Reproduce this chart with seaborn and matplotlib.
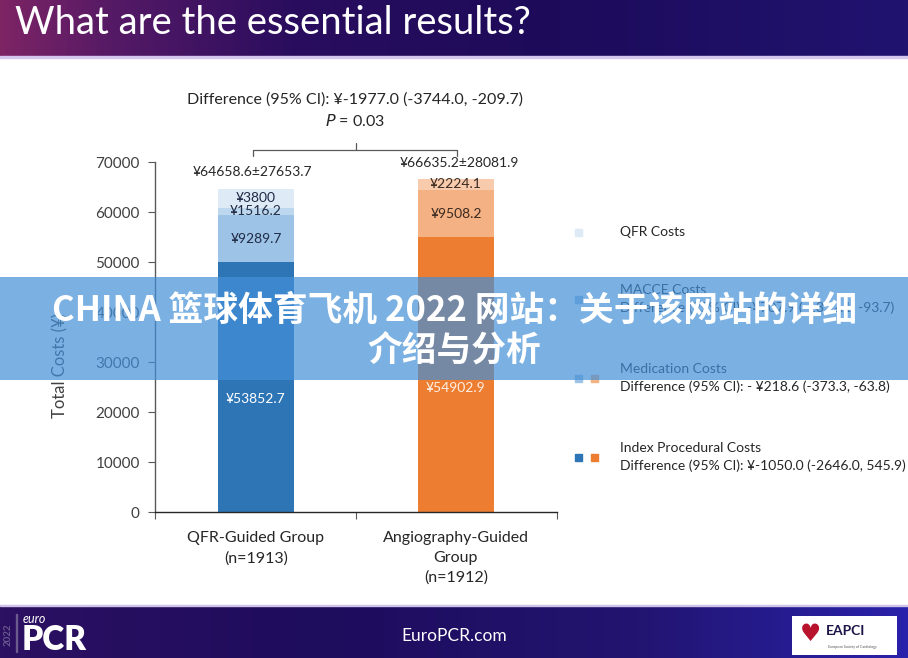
import numpy as np
import pandas as pd
import matplotlib
matplotlib.use("Agg")
import matplotlib.pyplot as plt
from matplotlib.colors import LinearSegmentedColormap
from matplotlib.patches import Rectangle
import seaborn as sns

# ---------------- data ----------------
groups = ["QFR-Guided Group\n(n=1913)", "Angiography-Guided\nGroup\n(n=1912)"]
index_costs = [50052.7, 54902.9]      # drawn bar heights
medication_costs = [9289.7, 9508.2]
macce_costs = [1516.2, 2224.1]
qfr_costs = [3800.0, 0.0]
index_labels = ["¥53852.7", "¥54902.9"]
medication_labels = ["¥9289.7", "¥9508.2"]
macce_labels = ["¥1516.2", "¥2224.1"]
qfr_labels = ["¥3800", ""]
total_labels = ["¥64658.6±27653.7", "¥66635.2±28081.9"]
yticks = [0, 10000, 20000, 30000, 40000, 50000, 60000, 70000]

legend_items = [
    ("QFR Costs", ""),
    ("MACCE Costs", "Difference (95% CI): -¥707.9 (-1322.1, -93.7)"),
    ("Medication Costs", "Difference (95% CI): - ¥218.6 (-373.3, -63.8)"),
    ("Index Procedural Costs", "Difference (95% CI): ¥-1050.0 (-2646.0, 545.9)"),
]

blue = {"index": "#2E75B6", "med": "#9DC3E6", "macce": "#BDD7EE", "qfr": "#DEEBF7"}
orange = {"index": "#ED7D31", "med": "#F4B183", "macce": "#F8CBAD", "qfr": "#FBE5D6"}

df = pd.DataFrame({
    "group": groups,
    "index": index_costs,
    "med": medication_costs,
    "macce": macce_costs,
    "qfr": qfr_costs,
})
df["c_index"] = df["index"]
df["c_med"] = df["c_index"] + df["med"]
df["c_macce"] = df["c_med"] + df["macce"]
df["c_qfr"] = df["c_macce"] + df["qfr"]

# ---------------- figure ----------------
sns.set_theme(style="white")
FONT = ["Lato", "DejaVu Sans"]
plt.rcParams["font.family"] = FONT

W, H = 908, 658
fig = plt.figure(figsize=(W / 100, H / 100), dpi=100, facecolor="white")

def fx(px):
    return px / W

def fy(py):
    return 1 - py / H

# header gradient
hdr_cmap = LinearSegmentedColormap.from_list(
    "hdr", [(0, "#7d2464"), (0.12, "#561a66"), (0.32, "#2a0d5e"), (0.6, "#1d0b5a"), (1, "#201370")])
hdr = fig.add_axes([0, fy(56), 1, 56 / H])
hdr.imshow(np.linspace(0, 1, 256)[None, :], cmap=hdr_cmap, aspect="auto", extent=[0, 1, 0, 1])
hdr.axis("off")
fig.patches.append(Rectangle((0, fy(58)), 1, 2 / H, transform=fig.transFigure,
                             color="#d4c6ec", zorder=1))
fig.text(fx(15), fy(23), "What are the essential results?", color="white", fontsize=27.5,
         va="center", ha="left", family=FONT)

# footer gradient
ftr_cmap = LinearSegmentedColormap.from_list(
    "ftr", [(0, "#2c1062"), (0.35, "#1e0c5c"), (0.7, "#221470"), (1, "#2a22aa")])
ftr = fig.add_axes([0, 0, 1, (H - 605) / H])
ftr.imshow(np.linspace(0, 1, 256)[None, :], cmap=ftr_cmap, aspect="auto", extent=[0, 1, 0, 1])
ftr.axis("off")
fig.patches.append(Rectangle((0, fy(606)), 1, 1.5 / H, transform=fig.transFigure,
                             color="#cfc3ea", zorder=1))
fig.text(fx(454), fy(636), "EuroPCR.com", color="white", fontsize=12.5, ha="center",
         va="center", family=FONT)
fig.text(fx(8), fy(635), "2022", color="#6a5a8e", fontsize=7, rotation=90, ha="center",
         va="center", fontweight="bold", family=FONT)
fig.patches.append(Rectangle((fx(16), fy(652)), 1 / W, 38 / H, transform=fig.transFigure,
                             color="#6a5a8e", zorder=2))
fig.text(fx(23), fy(619), "euro", color="white", fontsize=9, style="italic", ha="left",
         va="center", family=FONT)
fig.text(fx(22), fy(640), "PCR", color="white", fontsize=24, fontweight="heavy", ha="left",
         va="center", family=FONT)
fig.patches.append(Rectangle((fx(792), fy(655)), 105 / W, 39 / H, transform=fig.transFigure,
                             facecolor="white", edgecolor="none", zorder=2))
fig.text(fx(810), fy(634), "♥", color="#b8122c", fontsize=17, ha="center", va="center",
         family=["DejaVu Sans"], zorder=3)
fig.text(fx(826), fy(631), "EAPCI", color="#1d1447", fontsize=10, fontweight="bold",
         ha="left", va="center", family=FONT, zorder=3)
fig.text(fx(828), fy(647), "European Society of Cardiology", color="#555555", fontsize=2.5,
         ha="left", va="center", family=FONT, zorder=3)

# ---------------- chart ----------------
ax = fig.add_axes([fx(155), fy(512), (557 - 155) / W, (512 - 162) / H])
layers = [("c_qfr", "qfr"), ("c_macce", "macce"), ("c_med", "med"), ("c_index", "index")]
for col, key in layers:
    sns.barplot(data=df, x="group", y=col, hue="group", palette=[blue[key], orange[key]],
                width=0.38, legend=False, ax=ax, saturation=1, linewidth=0, errorbar=None)

ax.set_ylim(0, 70000)
ax.set_xlim(-0.505, 1.505)
ax.set_yticks(yticks)
ax.set_yticklabels([str(v) for v in yticks])
ax.set_xlabel("")
ax.set_ylabel("Total Costs (¥)", fontsize=12, color="#404040")
ax.yaxis.set_label_coords(-0.215, 0.42)
for s in ["top", "right"]:
    ax.spines[s].set_visible(False)
for s in ["left", "bottom"]:
    ax.spines[s].set_color("#595959")
    ax.spines[s].set_linewidth(1.0)
ax.spines["bottom"].set_color("#262626")
ax.tick_params(axis="y", direction="out", length=5, width=0.8, color="#595959",
               labelsize=11, labelcolor="#404040", left=True, pad=6)
ax.tick_params(axis="x", which="major", length=0, labelsize=11.5, labelcolor="#262626", pad=14)
ax.set_xticks([-0.505, 0.5, 1.505], minor=True)
ax.tick_params(axis="x", which="minor", direction="out", length=5, width=0.8,
               color="#595959", bottom=True)
ax.set_facecolor("white")
for lbl in ax.get_xticklabels():
    lbl.set_linespacing(1.5)

# segment labels
lab_kw = dict(ha="center", va="center", fontsize=10, clip_on=False)
for i in range(2):
    base = 0.0
    segs = [(index_costs[i], index_labels[i], "white", 0.45),
            (medication_costs[i], medication_labels[i], "#1f2a44", 0.5),
            (macce_costs[i], macce_labels[i], "#1f2a44", 0.5),
            (qfr_costs[i], qfr_labels[i], "#1f2a44", 0.5)]
    for val, txt, colr, frac in segs:
        if val > 0 and txt:
            if i == 1 and colr != "white":
                colr = "#3a2a20"
            if i == 1 and colr == "white":
                colr = "#fdf0e6"
            ax.text(i, base + val * frac, txt, color=colr, **lab_kw)
        base += val

tot = df["c_qfr"].tolist()
ax.text(-0.02, tot[0] + 3400, total_labels[0], ha="center", va="center", fontsize=10,
        color="#262626", clip_on=False)
ax.text(1.015, tot[1] + 3200, total_labels[1], ha="center", va="center", fontsize=10,
        color="#262626", clip_on=False)

# bracket
ybr = 72400
ax.plot([-0.015, -0.015, 1.005, 1.005], [71300, ybr, ybr, 71300], color="#595959",
        lw=0.9, clip_on=False)
ax.plot([0.5, 0.5], [ybr, 73800], color="#595959", lw=0.9, clip_on=False)
ax.text(0.495, 82400, "Difference (95% CI): ¥-1977.0 (-3744.0, -209.7)", ha="center",
        va="center", fontsize=11.5, color="#262626", clip_on=False)
ax.text(0.495, 78200, "$\\it{P}$ = 0.03", ha="center", va="center", fontsize=11.5,
        color="#262626", clip_on=False)

# legend (custom)
sq = 7
rows_y = [232, 290, 369, 448]
for (title, diff), y in zip(legend_items, rows_y):
    fig.text(fx(620), fy(y), title, fontsize=10, color="#262626", ha="left", va="center",
             family=FONT)
    if diff:
        fig.text(fx(620), fy(y + 18), diff, fontsize=10, color="#262626", ha="left",
                 va="center", family=FONT)
marks = [(232, [blue["qfr"]]), (299, [blue["med"]]),
         (378, [blue["med"], orange["med"]]), (457, [blue["index"], orange["index"]])]
for y, cols in marks:
    for k, c in enumerate(cols):
        x0 = 575 + 16 * k
        fig.patches.append(Rectangle((fx(x0), fy(y + sq / 2)), sq / W, sq / H,
                                     transform=fig.transFigure, color=c, zorder=3))

# ---------------- overlay banner ----------------
fig.patches.append(Rectangle((0, fy(380)), 1, (380 - 277) / H, transform=fig.transFigure,
                             facecolor=(66 / 255, 143 / 255, 215 / 255), alpha=0.7,
                             edgecolor="none", zorder=50))
CJK = ["Noto Sans CJK SC", "DejaVu Sans"]
fig.text(0.5, fy(310), "CHINA 篮球体育飞机 2022 网站：关于该网站的详细", color="white",
         fontsize=25, fontweight="bold", ha="center", va="center", family=CJK, zorder=60)
fig.text(0.5, fy(350), "介绍与分析", color="white", fontsize=25, fontweight="bold",
         ha="center", va="center", family=CJK, zorder=60)

fig.savefig("out.png", dpi=100, facecolor="white")
